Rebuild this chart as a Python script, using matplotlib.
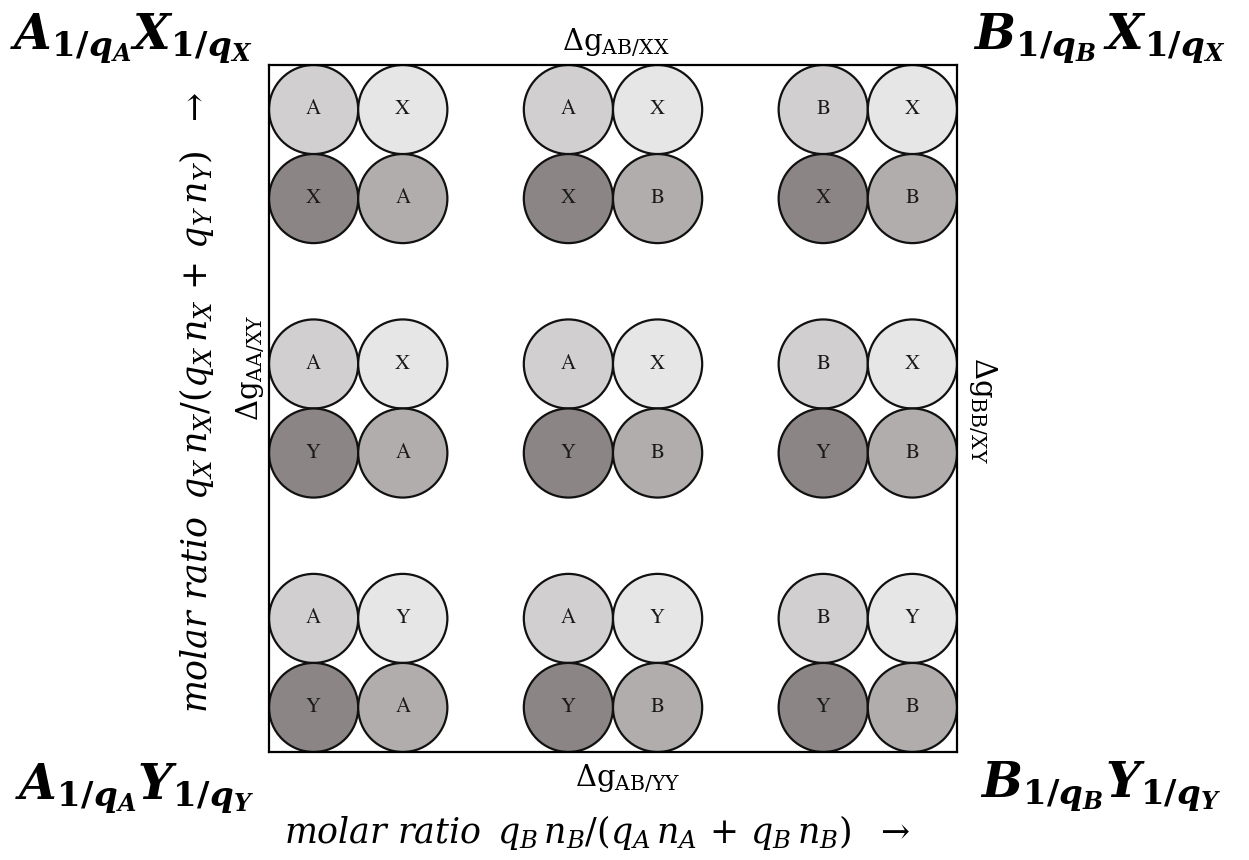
import matplotlib
matplotlib.use("Agg")
import matplotlib.pyplot as plt
from matplotlib.patches import Circle

plt.rcParams["mathtext.fontset"] = "dejavuserif"
plt.rcParams["font.family"] = ["DejaVu Serif"]

# Ions drawn in each 2x2 cluster
upper_cation = ["A", "A", "B"]      # top-left circle, per column
lower_cation = ["A", "B", "B"]      # bottom-right circle, per column
upper_anion = ["X", "X", "Y"]       # top-right circle, per row (top -> bottom)
lower_anion = ["X", "Y", "Y"]       # bottom-left circle, per row (top -> bottom)

col_pos = [0, 1, 2]
row_pos = [2, 1, 0]

# Fill shades for the four circle positions
c_upper_cation = "#d1cfd0"
c_upper_anion = "#e6e6e6"
c_lower_anion = "#8c8586"
c_lower_cation = "#b1adad"

W, H = 1249, 860
fig = plt.figure(figsize=(W / 100, H / 100), dpi=100)


def fx(px):
    return px / W


def fy(py):
    return 1 - py / H


ax = fig.add_axes([fx(269), fy(752), (957 - 269) / W, (752 - 65) / H])
r = 0.175
ax.set_xlim(-2 * r, 2 + 2 * r)
ax.set_ylim(-2 * r, 2 + 2 * r)
ax.set_xticks([])
ax.set_yticks([])
for s in ax.spines.values():
    s.set_linewidth(1.6)
    s.set_color("black")

for ci, cx in enumerate(col_pos):
    for ri, cy in enumerate(row_pos):
        cells = [
            (-r, r, upper_cation[ci], c_upper_cation),
            (r, r, upper_anion[ri], c_upper_anion),
            (-r, -r, lower_anion[ri], c_lower_anion),
            (r, -r, lower_cation[ci], c_lower_cation),
        ]
        for dx, dy, lab, col in cells:
            ax.add_patch(Circle((cx + dx, cy + dy), r, facecolor=col,
                                edgecolor="#111111", linewidth=1.6, zorder=2))
            ax.text(cx + dx, cy + dy, lab, ha="center", va="center",
                    fontsize=15, color="#1a1a1a", zorder=3,
                    family="STIXGeneral")

# Corner compositions
big = 35
fig.text(fx(10), fy(49),
         r"$\mathbfit{A}_{\mathbf{1/}\mathbfit{q}_{\mathbfit{A}}}"
         r"\mathbfit{X}_{\mathbf{1/}\mathbfit{q}_{\mathbfit{X}}}$",
         fontsize=big, ha="left", va="baseline")
fig.text(fx(973), fy(49),
         r"$\mathbfit{B}_{\mathbf{1/}\mathbfit{q}_{\mathbfit{B}}}\,"
         r"\mathbfit{X}_{\mathbf{1/}\mathbfit{q}_{\mathbfit{X}}}$",
         fontsize=big, ha="left", va="baseline")
fig.text(fx(15), fy(800),
         r"$\mathbfit{A}_{\mathbf{1/}\mathbfit{q}_{\mathbfit{A}}}"
         r"\mathbfit{Y}_{\mathbf{1/}\mathbfit{q}_{\mathbfit{Y}}}$",
         fontsize=big, ha="left", va="baseline")
fig.text(fx(980), fy(798),
         r"$\mathbfit{B}_{\mathbf{1/}\mathbfit{q}_{\mathbfit{B}}}"
         r"\mathbfit{Y}_{\mathbf{1/}\mathbfit{q}_{\mathbfit{Y}}}$",
         fontsize=big, ha="left", va="baseline")

# Interaction energy labels on the box edges
dg = 21
fig.text(fx(616), fy(50), r"$\Delta\mathrm{g}_{\mathrm{AB/XX}}$",
         fontsize=dg, ha="center", va="baseline")
fig.text(fx(628), fy(786), r"$\Delta\mathrm{g}_{\mathrm{AB/YY}}$",
         fontsize=dg, ha="center", va="baseline")
fig.text(fx(251), fy(368), r"$\Delta\mathrm{g}_{\mathrm{AA/XY}}$",
         fontsize=dg, ha="center", va="center", rotation=90)
fig.text(fx(982), fy(410), r"$\Delta\mathrm{g}_{\mathrm{BB/XY}}$",
         fontsize=dg, ha="center", va="center", rotation=-90)

# Composition axes
lab = 25
fig.text(fx(597), fy(832),
         r"$molar\ ratio\ \,q_B\,n_B/(q_A\,n_A\,+\,q_B\,n_B)\ \ \rightarrow$",
         fontsize=lab, ha="center", va="center")
fig.text(fx(197), fy(402),
         r"$molar\ ratio\ \,q_X\,n_X/(q_X\,n_X\,+\,q_Y\,n_Y)\ \ \rightarrow$",
         fontsize=lab, ha="center", va="center", rotation=90)

fig.savefig("out.png", dpi=100, facecolor="white")
